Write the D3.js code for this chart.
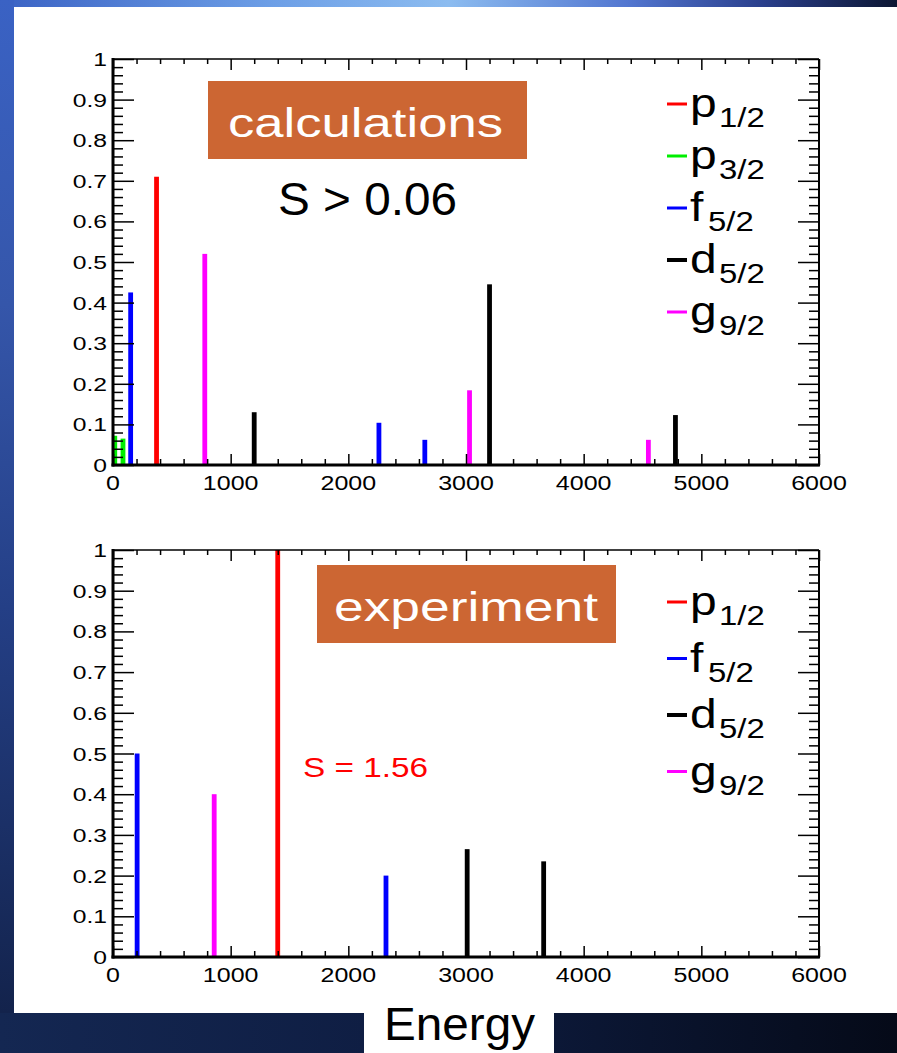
<!DOCTYPE html>
<html>
<head>
<meta charset="utf-8">
<script src="https://cdn.jsdelivr.net/npm/d3@7"></script>
<style>
  html, body { margin: 0; padding: 0; background: #0b1634; }
  svg { display: block; }
  text { font-family: "Liberation Sans", Arial, Helvetica, sans-serif; }
</style>
</head>
<body>
<script>
// Spectroscopic strength vs. excitation energy, calculated and measured.
const energyTicks = [0, 1000, 2000, 3000, 4000, 5000, 6000];
const strengthTicks = [0, 0.1, 0.2, 0.3, 0.4, 0.5, 0.6, 0.7, 0.8, 0.9, 1];

const orbitals = ["p1/2", "p3/2", "f5/2", "d5/2", "g9/2"];
const orbitalColors = ["#ff0000", "#00ee00", "#0000ff", "#000000", "#ff00ff"];

// calculated states with S > 0.06
const calcEnergy   = [15, 85, 150, 370, 780, 1200, 2260, 2650, 3030, 3200, 4550, 4780];
const calcStrength = [0.072, 0.065, 0.425, 0.71, 0.52, 0.13, 0.104, 0.062, 0.184, 0.445, 0.062, 0.123];
const calcOrbital  = ["p3/2", "p3/2", "f5/2", "p1/2", "g9/2", "d5/2", "f5/2", "f5/2", "g9/2", "d5/2", "g9/2", "d5/2"];

// measured states
const expEnergy   = [205, 860, 1400, 2320, 3010, 3660];
const expStrength = [0.50, 0.40, 1.56, 0.20, 0.265, 0.235];
const expOrbital  = ["f5/2", "g9/2", "p1/2", "f5/2", "d5/2", "d5/2"];

const calcLegend = ["p1/2", "p3/2", "f5/2", "d5/2", "g9/2"];
const expLegend  = ["p1/2", "f5/2", "d5/2", "g9/2"];

const W = 897, H = 1053;
const color = d3.scaleOrdinal(orbitals, orbitalColors);

const svg = d3.select("body").append("svg").attr("width", W).attr("height", H);
const defs = svg.append("defs");

// slide background
const gTop = defs.append("linearGradient").attr("id", "bgTop").attr("x1", 0).attr("x2", 1).attr("y1", 0).attr("y2", 0);
[["0", "#3a62c4"], ["0.3", "#6c9ee6"], ["0.5", "#8cbcf0"], ["0.7", "#5276d0"], ["0.85", "#2a3f8c"], ["1", "#0c1632"]]
  .forEach(([o, c]) => gTop.append("stop").attr("offset", o).attr("stop-color", c));
const gLeft = defs.append("linearGradient").attr("id", "bgLeft").attr("x1", 0).attr("x2", 0).attr("y1", 0).attr("y2", 1);
[["0", "#3a62c4"], ["0.3", "#3556aa"], ["0.6", "#243f86"], ["1", "#13234c"]]
  .forEach(([o, c]) => gLeft.append("stop").attr("offset", o).attr("stop-color", c));
const gBot = defs.append("linearGradient").attr("id", "bgBot").attr("x1", 0).attr("x2", 1).attr("y1", 0).attr("y2", 0);
[["0", "#142752"], ["0.5", "#0e1c40"], ["1", "#050a18"]]
  .forEach(([o, c]) => gBot.append("stop").attr("offset", o).attr("stop-color", c));

svg.append("rect").attr("width", W).attr("height", H).attr("fill", "url(#bgBot)");
svg.append("rect").attr("width", W).attr("height", 10).attr("fill", "url(#bgTop)");
svg.append("rect").attr("y", 0).attr("width", 14).attr("height", 1013).attr("fill", "url(#bgLeft)");
svg.append("rect").attr("x", 14).attr("y", 7).attr("width", W - 14).attr("height", 1006).attr("fill", "#ffffff");
svg.append("rect").attr("x", 364).attr("y", 1010).attr("width", 190).attr("height", 43).attr("fill", "#ffffff");

const x = d3.scaleLinear().domain([0, 6000]).range([113, 819]);

// horizontally widened text, as rendered on the slide
function wideText(g, str, px, py, size, sx, anchor, fill) {
  return g.append("text")
    .attr("transform", `translate(${px},${py}) scale(${sx},1)`)
    .attr("font-size", size).attr("text-anchor", anchor || "start")
    .attr("fill", fill || "#000").text(str);
}

function panel(y0, y1, energy, strength, orb, legend, legendY, legendStep) {
  const y = d3.scaleLinear().domain([0, 1]).range([y1, y0]);
  const g = svg.append("g");
  const clipId = "clip" + y0;
  defs.append("clipPath").attr("id", clipId)
    .append("rect").attr("x", x(0)).attr("y", y(1)).attr("width", x(6000) - x(0)).attr("height", y(0) - y(1));

  // bars
  g.append("g").attr("clip-path", `url(#${clipId})`)
    .selectAll("rect").data(energy).join("rect")
    .attr("x", (d) => x(d) - 2.4)
    .attr("width", 4.8)
    .attr("y", (d, i) => y(strength[i]))
    .attr("height", (d, i) => y(0) - y(strength[i]))
    .attr("fill", (d, i) => color(orb[i]));

  const minorX = d3.range(0, 6001, 200).filter((v) => v % 1000 !== 0);
  const minorY = d3.range(0, 51, 1).map((v) => v / 50).filter((v, i) => i % 5 !== 0);
  const tickStyle = (sel) => {
    sel.select(".domain").remove();
    sel.selectAll("line").attr("stroke", "#000").attr("stroke-width", 1.5);
  };

  // bottom and top axes
  g.append("g").attr("transform", `translate(0,${y(0)})`)
    .call(d3.axisBottom(x).tickValues(energyTicks).tickSize(-11).tickFormat("")).call(tickStyle);
  g.append("g").attr("transform", `translate(0,${y(0)})`)
    .call(d3.axisBottom(x).tickValues(minorX).tickSize(-6).tickFormat("")).call(tickStyle);
  g.append("g").attr("transform", `translate(0,${y(1)})`)
    .call(d3.axisTop(x).tickValues(energyTicks).tickSize(-11).tickFormat("")).call(tickStyle);
  g.append("g").attr("transform", `translate(0,${y(1)})`)
    .call(d3.axisTop(x).tickValues(minorX).tickSize(-5).tickFormat("")).call(tickStyle);
  // left and right axes
  g.append("g").attr("transform", `translate(${x(0)},0)`)
    .call(d3.axisLeft(y).tickValues(strengthTicks).tickSize(-21).tickFormat("")).call(tickStyle);
  g.append("g").attr("transform", `translate(${x(0)},0)`)
    .call(d3.axisLeft(y).tickValues(minorY).tickSize(-10).tickFormat("")).call(tickStyle);
  g.append("g").attr("transform", `translate(${x(6000)},0)`)
    .call(d3.axisRight(y).tickValues(strengthTicks).tickSize(-21).tickFormat("")).call(tickStyle);
  g.append("g").attr("transform", `translate(${x(6000)},0)`)
    .call(d3.axisRight(y).tickValues(minorY).tickSize(-10).tickFormat("")).call(tickStyle);

  // frame
  g.append("line").attr("x1", x(0)).attr("x2", x(6000)).attr("y1", y(1)).attr("y2", y(1)).attr("stroke", "#000").attr("stroke-width", 1.5);
  g.append("line").attr("x1", x(6000)).attr("x2", x(6000)).attr("y1", y(1)).attr("y2", y(0)).attr("stroke", "#000").attr("stroke-width", 2);
  g.append("line").attr("x1", x(0)).attr("x2", x(0)).attr("y1", y(1) - 1).attr("y2", y(0) + 1.5).attr("stroke", "#000").attr("stroke-width", 3);
  g.append("line").attr("x1", x(0) - 1.5).attr("x2", x(6000) + 1).attr("y1", y(0)).attr("y2", y(0)).attr("stroke", "#000").attr("stroke-width", 3);

  // tick labels
  strengthTicks.forEach((v) => {
    wideText(g, v === 0 ? "0" : (v === 1 ? "1" : v.toFixed(1)), x(0) - 6, y(v) + 7, 19, 1.3, "end");
  });
  energyTicks.forEach((v) => {
    wideText(g, String(v), x(v), y(0) + 25, 20, 1.25, "middle");
  });

  // legend
  legend.forEach((name, i) => {
    const ly = legendY + i * legendStep;
    g.append("line").attr("x1", 667).attr("x2", 687).attr("y1", ly).attr("y2", ly)
      .attr("stroke", color(name)).attr("stroke-width", name === "d5/2" ? 4 : 3);
    wideText(g, name[0], 690, ly + 13, 40, 1.2, "start");
    const subX = name[0] === "f" ? 708 : 719;
    wideText(g, name.slice(1), subX, ly + 23, 27, 1.22, "start");
  });
  return y;
}

panel(59, 465, calcEnergy, calcStrength, calcOrbital, calcLegend, 104, 52);
const yExp = panel(550, 957, expEnergy, expStrength, expOrbital, expLegend, 602, 56.5);

// captions
svg.append("rect").attr("x", 208).attr("y", 81).attr("width", 319).attr("height", 78).attr("fill", "#cc6633");
svg.append("text").attr("x", 228).attr("y", 137).attr("font-size", 40).attr("fill", "#fff")
  .attr("textLength", 275).attr("lengthAdjust", "spacingAndGlyphs").text("calculations");
svg.append("text").attr("x", 278).attr("y", 215).attr("font-size", 46).attr("fill", "#000")
  .attr("textLength", 179).attr("lengthAdjust", "spacingAndGlyphs").text("S > 0.06");

svg.append("rect").attr("x", 317).attr("y", 565).attr("width", 299).attr("height", 78).attr("fill", "#cc6633");
svg.append("text").attr("x", 334).attr("y", 621).attr("font-size", 40).attr("fill", "#fff")
  .attr("textLength", 264).attr("lengthAdjust", "spacingAndGlyphs").text("experiment");

const p12 = expOrbital.indexOf("p1/2");
svg.append("text").attr("x", 303).attr("y", 777).attr("font-size", 28).attr("fill", "#ff0000")
  .attr("textLength", 125).attr("lengthAdjust", "spacingAndGlyphs").text("S = " + expStrength[p12].toFixed(2));

svg.append("text").attr("x", 384).attr("y", 1040).attr("font-size", 46).attr("fill", "#000")
  .attr("textLength", 151).attr("lengthAdjust", "spacingAndGlyphs").text("Energy");
</script>
</body>
</html>
